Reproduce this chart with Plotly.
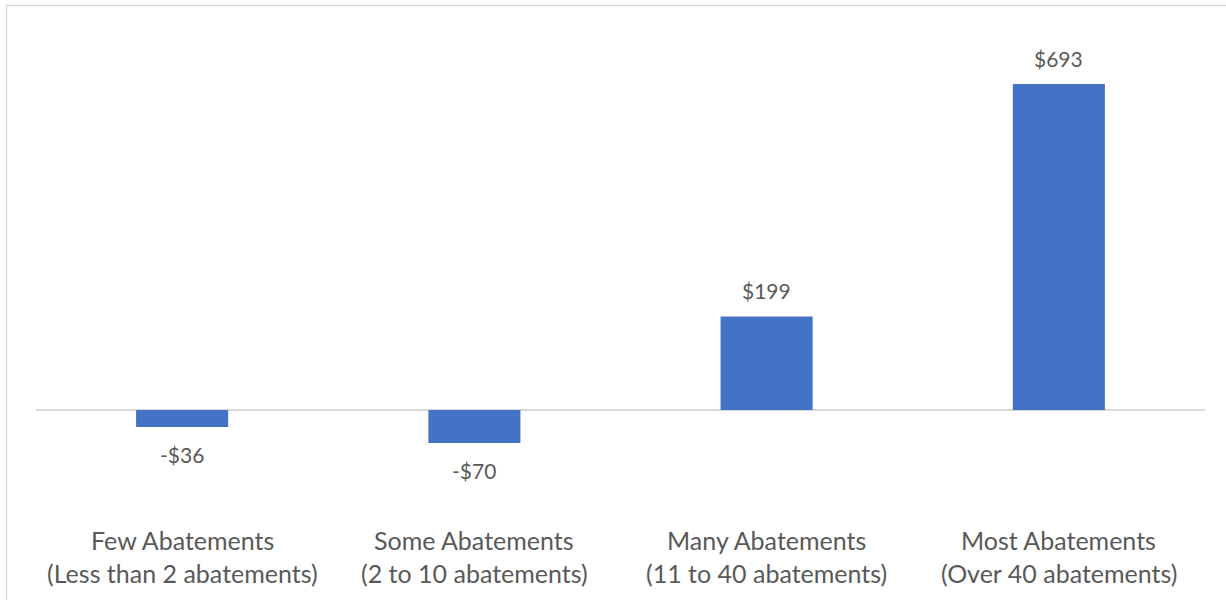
import plotly.graph_objects as go

categories = ["Few Abatements", "Some Abatements", "Many Abatements", "Most Abatements"]
subtitles = ["(Less than 2 abatements)", "(2 to 10 abatements)", "(11 to 40 abatements)", "(Over 40 abatements)"]
values = [-36, -70, 199, 693]
value_labels = ["-$36", "-$70", "$199", "$693"]

W, H = 1226, 600
L, R, T, B = 36, 21, 20, 100
plot_w = W - L - R
plot_h = H - T - B

def px_to_paper_y(py):
    return (H - B - py) / plot_h

def px_to_paper_x(px):
    return (px - L) / plot_w

fig = go.Figure()
fig.add_trace(go.Bar(
    x=categories, y=values,
    marker=dict(color="#4472C4", line=dict(width=0)),
    width=0.315,
    hoverinfo="skip",
))

font_family = "Lato, 'Open Sans', sans-serif"
text_color = "#595959"

annotations = []
for c, v, lab in zip(categories, values, value_labels):
    annotations.append(dict(
        x=c, y=v, xref="x", yref="y", text=lab, showarrow=False,
        yanchor="middle", yshift=26 if v >= 0 else -28,
        font=dict(family=font_family, size=21, color=text_color),
    ))
for c, s in zip(categories, subtitles):
    annotations.append(dict(
        x=c, y=px_to_paper_y(540), xref="x", yref="paper", text=c, showarrow=False,
        yanchor="middle", font=dict(family=font_family, size=25, color=text_color),
    ))
    annotations.append(dict(
        x=c, y=px_to_paper_y(573), xref="x", yref="paper", text=s, showarrow=False,
        yanchor="middle", font=dict(family=font_family, size=25, color=text_color),
    ))

shapes = [
    dict(type="line", xref="paper", yref="paper",
         x0=px_to_paper_x(6), x1=px_to_paper_x(W + 5),
         y0=px_to_paper_y(5.5), y1=px_to_paper_y(5.5),
         line=dict(color="#d9d9d9", width=1.5)),
    dict(type="line", xref="paper", yref="paper",
         x0=px_to_paper_x(6.5), x1=px_to_paper_x(6.5),
         y0=px_to_paper_y(5), y1=px_to_paper_y(H + 5),
         line=dict(color="#d9d9d9", width=1.5)),
]

scale = 326 / 693  # px per unit
y_top = (410 - T) / scale
y_bot = -(H - B - 410) / scale

fig.update_layout(
    width=W, height=H,
    margin=dict(l=L, r=R, t=T, b=B, pad=0),
    paper_bgcolor="white", plot_bgcolor="white",
    showlegend=False,
    bargap=0.685,
    xaxis=dict(showticklabels=False, showgrid=False, zeroline=False, showline=False, ticks="", fixedrange=True),
    yaxis=dict(range=[y_bot, y_top], showticklabels=False, showgrid=False,
               zeroline=True, zerolinecolor="#d9d9d9", zerolinewidth=1.5,
               showline=False, ticks="", fixedrange=True),
    annotations=annotations,
    shapes=shapes,
)

fig.write_html("out.html", config={"displayModeBar": False},
               post_script="document.body.style.margin='0';document.body.style.overflow='hidden';")
